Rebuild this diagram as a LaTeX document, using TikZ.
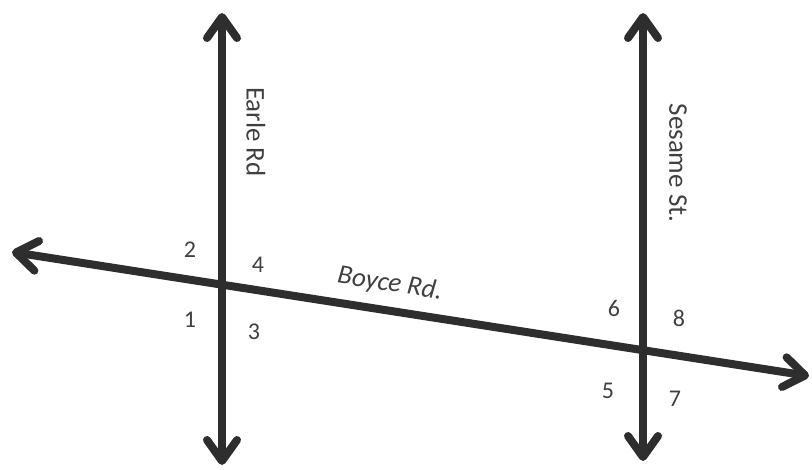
\documentclass[tikz,border=0pt]{standalone}
\usepackage{fontspec}
\setmainfont{Carlito}
\usetikzlibrary{arrows.meta}
\begin{document}
\begin{tikzpicture}[x=1pt,y=-1pt,
  road/.style={line width=8pt,draw=black!82,
    arrows={Straight Barb[length=21pt,width=30pt,line cap=round,line join=round]-Straight Barb[length=21pt,width=30pt,line cap=round,line join=round]}},
  lbl/.style={font=\fontsize{27}{30}\selectfont,text=black!75,inner sep=0pt},
  num/.style={font=\fontsize{24}{26}\selectfont,text=black!75,inner sep=0pt}]
\useasboundingbox (0,0) rectangle (812,469);
\coordinate (et) at (222,13);
\coordinate (eb) at (222,465);
\coordinate (st) at (643,13);
\coordinate (sb) at (643,461);
\coordinate (bl) at (12,252);
\coordinate (br) at (809,376);
\draw[road] (eb) -- (et);
\draw[road] (sb) -- (st);
\draw[road] (br) -- (bl);
\node[lbl,rotate=-90] (earle) at (256,132) {Earle Rd};
\node[lbl,rotate=-90] (sesame) at (678,163) {Sesame St.};
\node[lbl,rotate=-9,font=\fontsize{27}{30}\selectfont\itshape] (boyce) at (390,284) {Boyce Rd.};
\node[num] (n2) at (190,250) {2};
\node[num] (n4) at (258,265) {4};
\node[num] (n1) at (190,320) {1};
\node[num] (n3) at (254,332) {3};
\node[num] (n6) at (614,308) {6};
\node[num] (n8) at (679,318) {8};
\node[num] (n5) at (608,391) {5};
\node[num] (n7) at (675,399) {7};
\end{tikzpicture}
\end{document}
